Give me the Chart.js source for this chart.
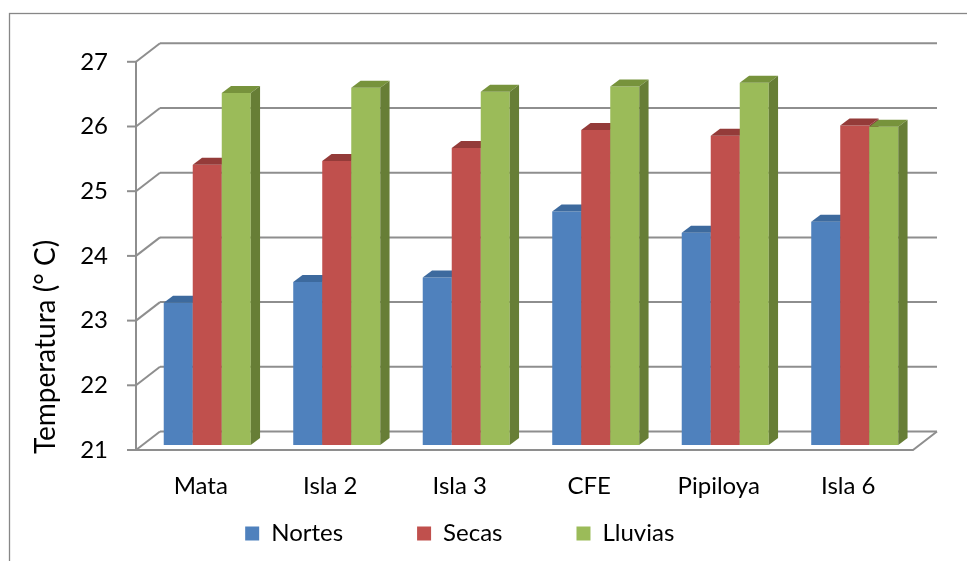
<!DOCTYPE html>
<html>
<head>
<meta charset="utf-8">
<title>Temperatura por sitio y temporada</title>
<script src="https://cdn.jsdelivr.net/npm/chart.js@4.4.1/dist/chart.umd.min.js"></script>
<style>
  html, body { margin: 0; padding: 0; background: #ffffff; }
  #wrap { width: 967px; height: 561px; position: relative; }
</style>
</head>
<body>
<div id="wrap"><canvas id="chart" width="967" height="561"></canvas></div>
<script>
// Sites and seasonal mean temperatures (°C)
const categories = ['Mata', 'Isla 2', 'Isla 3', 'CFE', 'Pipiloya', 'Isla 6'];
const seriesNames = ['Nortes', 'Secas', 'Lluvias'];
const nortes  = [23.20, 23.52, 23.59, 24.61, 24.28, 24.45];
const secas   = [25.33, 25.39, 25.59, 25.87, 25.78, 25.94];
const lluvias = [26.44, 26.52, 26.46, 26.54, 26.60, 25.92];
const yTicks  = [21, 22, 23, 24, 25, 26, 27];
const yTitle  = 'Temperatura (° C)';

const FONT = 'Lato, Carlito, "Open Sans", "DejaVu Sans", sans-serif';

// face colours: front, top, side
const palette = [
  { front: '#4F81BD', top: '#3D6A9E', side: '#385D8A' },
  { front: '#C0504D', top: '#943B39', side: '#8C3836' },
  { front: '#9BBB59', top: '#77933C', side: '#677E36' }
];

// pseudo-3D geometry (pixels)
const BAR_DX = 9.3, BAR_DY = 7;        // depth of each column
const FRONT_DX = -6.5, FRONT_DY = 5;   // front plane relative to column faces
const BACK_DX = 17.5, BACK_DY = -13.5; // back wall relative to column faces
const GRID = '#8E8E8E';
const LEGEND_ROW_Y = 533.5;            // centre line of the legend row
const LEGEND_GAP = 74;                 // space between legend entries

const depthPlugin = {
  id: 'depth3d',
  afterLayout(chart) {
    // lift the legend row up under the category labels
    const lg = chart.legend;
    if (lg) {
      lg.top = LEGEND_ROW_Y - LEGEND_GAP - 12;
      lg.bottom = chart.height;
    }
  },
  beforeDraw(chart) {
    const ctx = chart.ctx;
    ctx.save();
    ctx.fillStyle = '#ffffff';
    ctx.fillRect(0, 0, chart.width, chart.height);
    // outer frame
    ctx.strokeStyle = '#878787';
    ctx.lineWidth = 1.3;
    ctx.strokeRect(9.5, 13.5, chart.width, chart.height);
    ctx.restore();
  },
  beforeDatasetsDraw(chart) {
    const ctx = chart.ctx;
    const area = chart.chartArea;
    const ys = chart.scales.y;
    const fl = area.left + FRONT_DX, fr = area.right + FRONT_DX;
    const bl = area.left + BACK_DX, br = area.right + BACK_DX;
    ctx.save();
    ctx.strokeStyle = GRID;
    ctx.lineWidth = 2;
    ctx.lineCap = 'butt';
    yTicks.forEach(v => {
      const p = ys.getPixelForValue(v);
      const yf = p + FRONT_DY, yb = p + BACK_DY;
      // back wall line
      ctx.beginPath();
      ctx.moveTo(bl, yb); ctx.lineTo(br, yb);
      ctx.stroke();
      // side wall diagonal
      ctx.beginPath();
      ctx.moveTo(fl, yf); ctx.lineTo(bl, yb);
      ctx.stroke();
      // tick mark
      ctx.beginPath();
      ctx.moveTo(fl - 9, yf); ctx.lineTo(fl, yf);
      ctx.stroke();
    });
    const yTop = ys.getPixelForValue(yTicks[yTicks.length - 1]) + FRONT_DY;
    const yBot = ys.getPixelForValue(yTicks[0]) + FRONT_DY;
    // vertical axis
    ctx.beginPath();
    ctx.moveTo(fl, yTop); ctx.lineTo(fl, yBot);
    ctx.stroke();
    // floor front edge and right edge
    ctx.beginPath();
    ctx.moveTo(fl, yBot); ctx.lineTo(fr, yBot);
    ctx.lineTo(br, ys.getPixelForValue(yTicks[0]) + BACK_DY);
    ctx.stroke();
    ctx.restore();

    // axis title
    ctx.save();
    ctx.fillStyle = '#000000';
    ctx.font = '28px ' + FONT;
    ctx.textAlign = 'center';
    ctx.textBaseline = 'alphabetic';
    ctx.translate(55, 347);
    ctx.rotate(-Math.PI / 2);
    ctx.fillText(yTitle, 0, 0);
    ctx.restore();
  },
  // columns are painted below, series by series from left to right,
  // so each column hides the side of its left neighbour
  beforeDatasetDraw() {
    return false;
  },
  afterDatasetsDraw(chart) {
    const ctx = chart.ctx;
    chart.data.datasets.forEach((ds, i) => {
      const meta = chart.getDatasetMeta(i);
      if (meta.hidden) return;
      const col = palette[i];
      meta.data.forEach(el => {
        ctx.save();
        el.draw(ctx);
        ctx.restore();
        const { x, y, width, base } = el.getProps(['x', 'y', 'width', 'base'], true);
        const l = x - width / 2, r = x + width / 2;
        ctx.save();
        // top face
        ctx.fillStyle = col.top;
        ctx.beginPath();
        ctx.moveTo(l, y); ctx.lineTo(r, y);
        ctx.lineTo(r + BAR_DX, y - BAR_DY); ctx.lineTo(l + BAR_DX, y - BAR_DY);
        ctx.closePath();
        ctx.fill();
        // right side face
        ctx.fillStyle = col.side;
        ctx.beginPath();
        ctx.moveTo(r, y); ctx.lineTo(r + BAR_DX, y - BAR_DY);
        ctx.lineTo(r + BAR_DX, base - BAR_DY); ctx.lineTo(r, base);
        ctx.closePath();
        ctx.fill();
        ctx.restore();
      });
    });
  }
};

const seriesData = [nortes, secas, lluvias];

new Chart(document.getElementById('chart'), {
  type: 'bar',
  data: {
    labels: categories,
    datasets: seriesNames.map((name, i) => ({
      label: name,
      data: seriesData[i],
      base: yTicks[0],
      backgroundColor: palette[i].front,
      borderWidth: 0,
      categoryPercentage: 0.672,
      barPercentage: 1.0
    }))
  },
  options: {
    responsive: false,
    animation: false,
    devicePixelRatio: 1,
    layout: { padding: { top: 56.8, right: 47.5, left: 0, bottom: 0 } },
    plugins: {
      tooltip: { enabled: false },
      legend: {
        position: 'bottom',
        maxHeight: 40,
        labels: {
          boxWidth: 14,
          boxHeight: 14,
          padding: LEGEND_GAP,
          color: '#000000',
          font: { family: FONT, size: 24 }
        }
      }
    },
    scales: {
      x: {
        grid: { display: false, drawTicks: false },
        border: { display: false },
        ticks: {
          color: '#000000',
          font: { family: FONT, size: 24 },
          padding: 27,
          labelOffset: FRONT_DX,
          maxRotation: 0,
          autoSkip: false
        },
        afterFit(s) { s.height = 76; }
      },
      y: {
        min: yTicks[0],
        max: yTicks[yTicks.length - 1],
        beginAtZero: false,
        afterBuildTicks(s) { s.ticks = yTicks.map(v => ({ value: v })); },
        grid: { display: false, drawTicks: false },
        border: { display: false },
        ticks: {
          color: '#000000',
          font: { family: FONT, size: 24 },
          padding: 34.5,
          labelOffset: FRONT_DY
        },
        afterFit(s) { s.width = 142.5; }
      }
    }
  },
  plugins: [depthPlugin]
});
</script>
</body>
</html>
